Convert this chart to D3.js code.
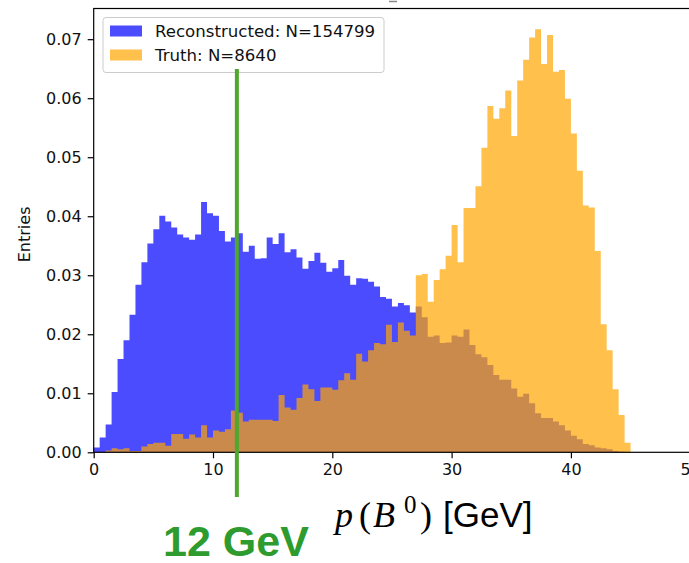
<!DOCTYPE html>
<html lang="en">
<head>
<meta charset="UTF-8">
<title>p(B0): reconstructed vs truth</title>
<script src="https://d3js.org/d3.v7.min.js"></script>
<style>
  body { margin: 0; background: #fff; }
  svg { display: block; font-family: 'DejaVu Sans', sans-serif; }
  .tick text { font-size: 16px; fill: #111; }
  .tick line { stroke: #000; stroke-width: 1.2; }
</style>
</head>
<body>
<svg id="chart" width="689" height="563"></svg>
<script>
// 100 bins of 0.5 GeV from 0 to 50, density normalised
const binEdges = d3.range(0, 50.001, 0.5);

const recoValues = [
  0.0008, 0.0025, 0.0047, 0.0102, 0.0158, 0.0190, 0.0233, 0.0284, 0.0322, 0.0354,
  0.0378, 0.0401, 0.0391, 0.0381, 0.0369, 0.0364, 0.0360, 0.0369, 0.0424, 0.0405,
  0.0401, 0.0375, 0.0357, 0.0364, 0.0371, 0.0340, 0.0350, 0.0328, 0.0329, 0.0364,
  0.0353, 0.0371, 0.0339, 0.0344, 0.0330, 0.0311, 0.0324, 0.0338, 0.0321, 0.0306,
  0.0312, 0.0326, 0.0299, 0.0284, 0.0295, 0.0294, 0.0289, 0.0281, 0.0263, 0.0260,
  0.0247, 0.0253, 0.0249, 0.0237, 0.0247, 0.0229, 0.0196, 0.0198, 0.0185, 0.0186,
  0.0198, 0.0196, 0.0208, 0.0182, 0.0166, 0.0161, 0.0148, 0.0131, 0.0123, 0.0123,
  0.0108, 0.0094, 0.0099, 0.0083, 0.0066, 0.0058, 0.0058, 0.0052, 0.0046, 0.0037,
  0.0028, 0.0022, 0.0014, 0.0012, 0.0008, 0.0007, 0.0005, 0.0002, 0.0001, 0,
  0, 0, 0, 0, 0, 0, 0, 0, 0, 0
];

const truthValues = [
  0, 0, 0.0003, 0.0007, 0.0005, 0.0007, 0.0002, 0.0002, 0.0010, 0.0014,
  0.0016, 0.0016, 0.0011, 0.0031, 0.0031, 0.0023, 0.0030, 0.0025, 0.0046, 0.0025,
  0.0037, 0.0035, 0.0039, 0.0071, 0.0067, 0.0052, 0.0055, 0.0055, 0.0055, 0.0055,
  0.0053, 0.0097, 0.0076, 0.0072, 0.0092, 0.0115, 0.0107, 0.0087, 0.0110, 0.0110,
  0.0106, 0.0122, 0.0134, 0.0123, 0.0167, 0.0154, 0.0173, 0.0185, 0.0183, 0.0216,
  0.0187, 0.0220, 0.0206, 0.0198, 0.0300, 0.0302, 0.0255, 0.0292, 0.0310, 0.0333,
  0.0385, 0.0322, 0.0414, 0.0414, 0.0451, 0.0516, 0.0587, 0.0565, 0.0583, 0.0613,
  0.0536, 0.0630, 0.0665, 0.0703, 0.0717, 0.0658, 0.0707, 0.0645, 0.0648, 0.0599,
  0.0540, 0.0477, 0.0418, 0.0415, 0.0341, 0.0217, 0.0173, 0.0107, 0.0063, 0.0016,
  0, 0, 0, 0, 0, 0, 0, 0, 0, 0
];

const xTicks = [0, 10, 20, 30, 40, 50];
const yTicks = [0, 0.01, 0.02, 0.03, 0.04, 0.05, 0.06, 0.07];
const seriesNames = ["Reconstructed: N=154799", "Truth: N=8640"];
const seriesColors = ["blue", "orange"];
const cutValue = 12;

const svg = d3.select("#chart");
const plotLeft = 93.7, plotRight = 690.2, plotTop = 8.5, plotBottom = 452.3;

const x = d3.scaleLinear().domain([0, 50]).range([plotLeft, plotRight]);
const y = d3.scaleLinear().domain([0, 0.0752]).range([plotBottom, plotTop]);

// remnant of the cropped title
svg.append("line").attr("x1", 389).attr("x2", 397).attr("y1", 1.5).attr("y2", 1.5)
  .attr("stroke", "#888").attr("stroke-width", 1.5);

const area = d3.area()
  .curve(d3.curveStepAfter)
  .x(d => x(d.x))
  .y0(y(0))
  .y1(d => y(d.v));

[recoValues, truthValues].forEach((vals, k) => {
  const pts = vals.map((v, i) => ({ x: binEdges[i], v }));
  pts.push({ x: binEdges[vals.length], v: vals[vals.length - 1] });
  svg.append("path")
    .attr("d", area(pts))
    .attr("fill", seriesColors[k])
    .attr("fill-opacity", 0.7);
});

// axes
const xAxis = d3.axisBottom(x).tickValues(xTicks).tickSize(6).tickPadding(5).tickFormat(d3.format("d"));
svg.append("g").attr("transform", `translate(0,${plotBottom})`).call(xAxis)
  .call(g => g.select(".domain").remove());

const yAxis = d3.axisLeft(y).tickValues(yTicks).tickSize(6).tickPadding(6).tickFormat(d3.format(".2f"));
svg.append("g").attr("transform", `translate(${plotLeft},0)`).call(yAxis)
  .call(g => g.select(".domain").remove());

svg.selectAll(".tick text").attr("font-family", "'DejaVu Sans', sans-serif");

// frame (right spine falls just outside the picture)
svg.append("rect")
  .attr("x", plotLeft).attr("y", plotTop)
  .attr("width", plotRight - plotLeft).attr("height", plotBottom - plotTop)
  .attr("fill", "none").attr("stroke", "#000").attr("stroke-width", 1.2);

svg.append("text")
  .attr("transform", `translate(30,${(plotTop + plotBottom) / 2 + 4}) rotate(-90)`)
  .attr("text-anchor", "middle")
  .attr("font-size", 16)
  .attr("fill", "#111")
  .text("Entries");

// legend
const lg = svg.append("g");
lg.append("rect")
  .attr("x", 103).attr("y", 17.5).attr("width", 281).attr("height", 55).attr("rx", 3)
  .attr("fill", "#fff").attr("fill-opacity", 0.8).attr("stroke", "#ccc");
seriesNames.forEach((name, i) => {
  const cy = 31 + i * 24;
  lg.append("rect").attr("x", 110).attr("y", cy - 5.5).attr("width", 32).attr("height", 11)
    .attr("fill", seriesColors[i]).attr("fill-opacity", 0.7);
  lg.append("text").attr("x", 155).attr("y", cy + 6)
    .attr("font-size", 16.6).attr("fill", "#111").text(name);
});

// 12 GeV marker
svg.append("line")
  .attr("x1", x(cutValue)).attr("x2", x(cutValue))
  .attr("y1", 69).attr("y2", 497)
  .attr("stroke", "#4ea72e").attr("stroke-width", 4);

svg.append("text")
  .attr("x", 163).attr("y", 556)
  .attr("font-family", "'Liberation Sans', Arial, sans-serif")
  .attr("font-weight", "bold").attr("font-size", 43)
  .attr("fill", "#2e9b2e")
  .text(`${cutValue} GeV`);

// x label, p(B^0) [GeV]
const xl = svg.append("text").attr("y", 527)
  .attr("font-family", "'Liberation Serif', serif").attr("font-size", 36).attr("fill", "#000");
xl.append("tspan").attr("x", 335).attr("font-style", "italic").text("p");
xl.append("tspan").attr("x", 359).text("(");
xl.append("tspan").attr("x", 373).attr("font-style", "italic").text("B");
xl.append("tspan").attr("x", 404).attr("dy", -14).attr("font-size", 25).text("0");
xl.append("tspan").attr("x", 420).attr("dy", 14).text(")");
xl.append("tspan").attr("x", 443)
  .attr("font-family", "'Liberation Sans', Arial, sans-serif").attr("font-size", 35)
  .text("[GeV]");
</script>
</body>
</html>
